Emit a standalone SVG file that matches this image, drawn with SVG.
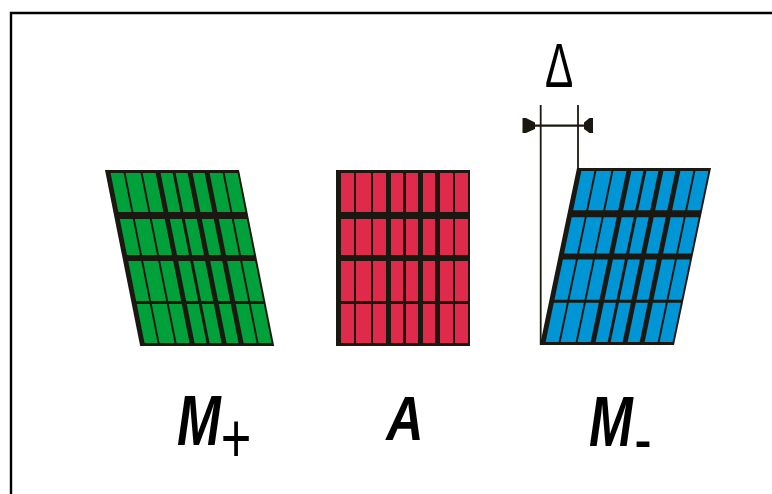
<svg xmlns="http://www.w3.org/2000/svg" xmlns:xlink="http://www.w3.org/1999/xlink" width="772" height="494" viewBox="0 0 772 494">
  <style>
    .frame { fill: none; stroke: #000; stroke-width: 2.4; }
    .dark { fill: #1a1810; }
    .cell-green { fill: #00a03a; }
    .cell-red { fill: #e02a4b; }
    .cell-blue { fill: #0096d6; }
    .dim { fill: none; stroke: #1a1810; stroke-width: 1.8; }
    .dim-bar { fill: none; stroke: #1a1810; stroke-width: 2.2; }
    .head { fill: #1a1810; }
    .label { font-family: "Liberation Sans", Arial, sans-serif; font-weight: bold; font-style: italic; fill: #000; }
    .sub { font-weight: normal; font-style: normal; }
    .delta { font-family: "Liberation Sans", Arial, sans-serif; font-weight: normal; fill: #000; }
  </style>
  <defs>
    <!-- one 8-column x 4-row block of cells, 134 x 176, origin at top-left -->
    <g id="cells">
      <rect x="5" y="3" width="13" height="39"/>
      <rect x="20" y="3" width="15" height="39"/>
      <rect x="37" y="3" width="13" height="39"/>
      <rect x="55" y="3" width="12" height="39"/>
      <rect x="70" y="3" width="12" height="39"/>
      <rect x="87" y="3" width="12" height="39"/>
      <rect x="104" y="3" width="13" height="39"/>
      <rect x="119" y="3" width="13" height="39"/>

      <rect x="5" y="49" width="13" height="36"/>
      <rect x="20" y="49" width="15" height="36"/>
      <rect x="37" y="49" width="13" height="36"/>
      <rect x="55" y="49" width="12" height="36"/>
      <rect x="70" y="49" width="12" height="36"/>
      <rect x="87" y="49" width="12" height="36"/>
      <rect x="104" y="49" width="13" height="36"/>
      <rect x="119" y="49" width="13" height="36"/>

      <rect x="5" y="91" width="13" height="40"/>
      <rect x="20" y="91" width="15" height="40"/>
      <rect x="37" y="91" width="13" height="40"/>
      <rect x="55" y="91" width="12" height="40"/>
      <rect x="70" y="91" width="12" height="40"/>
      <rect x="87" y="91" width="12" height="40"/>
      <rect x="104" y="91" width="13" height="40"/>
      <rect x="119" y="91" width="13" height="40"/>

      <rect x="5" y="134" width="13" height="39"/>
      <rect x="20" y="134" width="15" height="39"/>
      <rect x="37" y="134" width="13" height="39"/>
      <rect x="55" y="134" width="12" height="39"/>
      <rect x="70" y="134" width="12" height="39"/>
      <rect x="87" y="134" width="12" height="39"/>
      <rect x="104" y="134" width="13" height="39"/>
      <rect x="119" y="134" width="13" height="39"/>
    </g>
    <rect id="block" x="0" y="0" width="134" height="176"/>
  </defs>

  <!-- outer frame (left and top edges) -->
  <path class="frame" d="M11,494 V13 H772"/>

  <!-- M+ : block sheared to the right -->
  <g id="m-plus">
    <g transform="translate(105,170) skewX(11.3)">
      <use xlink:href="#block" class="dark"/>
      <use xlink:href="#cells" class="cell-green"/>
    </g>
    <text class="label" font-size="70" transform="translate(177,445) scale(0.75,1)">M<tspan class="sub" dy="17">+</tspan></text>
  </g>

  <!-- A : upright block -->
  <g id="a">
    <g transform="translate(336,170)">
      <use xlink:href="#block" class="dark"/>
      <use xlink:href="#cells" class="cell-red"/>
    </g>
    <text class="label" font-size="63" text-anchor="middle" transform="translate(405,440) scale(0.82,1)">A</text>
  </g>

  <!-- M- : block sheared to the left -->
  <g id="m-minus">
    <g transform="translate(577,168) skewX(-11.8)">
      <use xlink:href="#block" class="dark" transform="scale(1,1.006)"/>
      <use xlink:href="#cells" class="cell-blue" transform="scale(1,1.006)"/>
    </g>
    <text class="label" font-size="70" transform="translate(589,446) scale(0.75,1)">M<tspan class="sub" dx="2" dy="17">-</tspan></text>
  </g>

  <!-- shear offset dimension -->
  <g id="connectors">
    <line class="dim" x1="540.7" y1="105" x2="540.7" y2="345"/>
    <line class="dim" x1="578" y1="105" x2="578" y2="168"/>
    <line class="dim-bar" x1="524" y1="125.7" x2="592" y2="125.7"/>
    <polygon class="head" points="522.5,118 526,118 535,122.5 535,129 526,133 522.5,133"/>
    <polygon class="head" points="584,122.5 589.5,118 593,118 593,133 589.5,133 584,129"/>
    <text class="delta" font-size="63" text-anchor="middle" transform="translate(559,87) scale(0.67,1)">Δ</text>
  </g>
</svg>
